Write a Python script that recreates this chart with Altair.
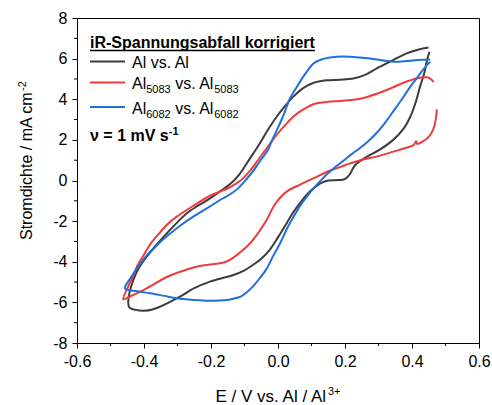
import altair as alt
import pandas as pd

# ---------------- data ----------------
x_ticks = [-0.6, -0.4, -0.2, 0.0, 0.2, 0.4, 0.6]
x_minor = [-0.5, -0.3, -0.1, 0.1, 0.3, 0.5]
y_ticks = [-8, -6, -4, -2, 0, 2, 4, 6, 8]
y_minor = [-7, -5, -3, -1, 1, 3, 5, 7]

series_names = ["Al vs. Al", "Al5083 vs. Al5083", "Al6082 vs. Al6082"]
series_colors = ["#3c3c3c", "#ef3b3b", "#1f6fdc"]

# Al vs. Al (upper branch right->left, then lower branch left->right)
al_E = [0.449, 0.42, 0.384, 0.344, 0.295, 0.26, 0.225, 0.185, 0.145, 0.105, 0.075, 0.046, 0.02, -0.004,
        -0.03, -0.054, -0.085, -0.113, -0.135, -0.17, -0.203, -0.24, -0.273, -0.30, -0.332, -0.362,
        -0.392, -0.415, -0.432, -0.443, -0.447, -0.444, -0.425, -0.40, -0.375, -0.352, -0.325, -0.293,
        -0.25, -0.203, -0.165, -0.133, -0.10, -0.074, -0.05, -0.024, 0.0, 0.026, 0.046, 0.066, 0.086,
        0.105, 0.125, 0.15, 0.18, 0.198, 0.212, 0.23, 0.26, 0.30, 0.344, 0.375, 0.395, 0.41, 0.424,
        0.437, 0.445, 0.452]
al_j = [6.55, 6.45, 6.26, 5.93, 5.52, 5.2, 5.02, 4.96, 4.93, 4.8, 4.55, 4.13, 3.65, 3.14,
        2.5, 1.83, 1.05, 0.35, -0.06, -0.5, -0.88, -1.25, -1.62, -2.05, -2.6, -3.15,
        -3.75, -4.3, -4.9, -5.5, -6.0, -6.25, -6.37, -6.41, -6.35, -6.21, -6.0, -5.72,
        -5.3, -4.98, -4.8, -4.65, -4.42, -4.15, -3.85, -3.4, -2.8, -2.1, -1.55, -1.1, -0.7,
        -0.4, -0.15, 0.0, 0.02, 0.06, 0.25, 0.75, 1.12, 1.48, 2.0, 2.55, 3.14, 3.8, 4.62,
        5.3, 5.93, 6.34]

# Al5083 vs. Al5083
a5_E = [0.465, 0.455, 0.444, 0.42, 0.38, 0.344, 0.3, 0.245, 0.195, 0.145, 0.11, 0.076, 0.046, 0.02,
        -0.004, -0.02, -0.04, -0.064, -0.085, -0.11, -0.14, -0.173, -0.203, -0.253, -0.302, -0.33,
        -0.352, -0.38, -0.402, -0.42, -0.432, -0.448, -0.462,
        -0.44, -0.402, -0.37, -0.332, -0.29, -0.253, -0.22, -0.183, -0.155, -0.133, -0.11, -0.084,
        -0.06, -0.034, -0.014, 0.006, 0.03, 0.066, 0.105, 0.145, 0.2, 0.245, 0.3, 0.344, 0.38, 0.405,
        0.412, 0.416, 0.43, 0.45, 0.463, 0.471, 0.474]
a5_j = [4.85, 5.0, 5.08, 5.05, 4.85, 4.59, 4.3, 4.02, 3.93, 3.87, 3.78, 3.5, 3.15, 2.7,
        2.25, 1.9, 1.45, 0.9, 0.45, 0.02, -0.3, -0.55, -0.75, -1.25, -1.78, -2.15,
        -2.55, -3.1, -3.7, -4.2, -4.7, -5.25, -5.85,
        -5.7, -5.4, -5.1, -4.75, -4.48, -4.28, -4.17, -4.1, -4.0, -3.8, -3.5, -3.1,
        -2.6, -1.95, -1.3, -0.85, -0.5, -0.2, 0.1, 0.42, 0.75, 1.0, 1.2, 1.42, 1.6, 1.75,
        1.93, 1.8, 1.9, 2.15, 2.5, 3.0, 3.5]

# Al6082 vs. Al6082
a6_E = [0.454, 0.43, 0.394, 0.37, 0.344, 0.32, 0.295, 0.245, 0.195, 0.155, 0.125, 0.105, 0.09, 0.075,
        0.056, 0.036, 0.016, 0.0, -0.02, -0.03, -0.054, -0.075, -0.095, -0.12, -0.145, -0.173, -0.21,
        -0.253, -0.29, -0.332, -0.362, -0.392, -0.42, -0.44, -0.457,
        -0.42, -0.382, -0.34, -0.302, -0.25, -0.203, -0.16, -0.133, -0.11, -0.093, -0.074, -0.054,
        -0.034, -0.014, 0.006, 0.026, 0.046, 0.066, 0.086, 0.105, 0.125, 0.145, 0.17, 0.195, 0.22,
        0.245, 0.27, 0.295, 0.32, 0.344, 0.37, 0.394, 0.415, 0.435, 0.454]
a6_j = [5.96, 5.94, 5.9, 5.86, 5.85, 5.9, 5.96, 6.05, 6.1, 6.05, 5.93, 5.75, 5.45, 5.1,
        4.6, 4.05, 3.2, 2.6, 1.9, 1.5, 0.95, 0.45, 0.05, -0.4, -0.7, -0.96, -1.35,
        -1.78, -2.2, -2.75, -3.2, -3.7, -4.3, -4.8, -5.31,
        -5.45, -5.55, -5.68, -5.8, -5.88, -5.92, -5.9, -5.82, -5.7, -5.5, -5.2, -4.8,
        -4.35, -3.7, -3.1, -2.4, -1.8, -1.25, -0.8, -0.4, -0.05, 0.3, 0.65, 0.97, 1.3,
        1.6, 1.95, 2.35, 2.85, 3.4, 4.0, 4.6, 5.05, 5.5, 5.85]

# ---------------- layout / style ----------------
W, H = 402, 325
FONT = "Liberation Sans"

REG = {' ': 278, 'A': 667, 'l': 222, 'v': 500, 's': 500, '.': 278, 'E': 667, '/': 278, 'V': 667,
       'S': 667, 't': 278, 'r': 333, 'o': 556, 'm': 833, 'd': 556, 'i': 222, 'c': 500, 'h': 556,
       'e': 556, '-': 333, '+': 584}
BOLD = {'i': 278, 'R': 722, '-': 333, 'S': 667, 'p': 611, 'a': 556, 'n': 611, 'u': 611, 'g': 611,
        's': 556, 'b': 611, 'f': 333, 'l': 278, ' ': 278, 'k': 556, 'o': 611, 'r': 389, 'e': 556,
        't': 333, 'ν': 556, '=': 584, 'm': 889, 'V': 667}


def tw(text, size, bold=False):
    table = BOLD if bold else REG
    return sum(table.get(ch, 556) for ch in text) * size / 1000.0


xs = alt.Scale(domain=[-0.6, 0.6], nice=False, zero=False)
ys = alt.Scale(domain=[-8, 8], nice=False, zero=False)

x_axis = alt.Axis(values=x_ticks, title=None, grid=False, tickSize=5, labelPadding=5, labelFlush=False,
                  labelExpr="datum.value < 0 ? '-' + format(-datum.value, '.1f') : format(datum.value, '.1f')")
y_axis = alt.Axis(values=y_ticks, title=None, grid=False, tickSize=5, labelPadding=5, labelFlush=False,
                  labelExpr="datum.value < 0 ? '-' + format(-datum.value, 'd') : format(datum.value, 'd')")


def curve(E, j, name, color):
    df = pd.DataFrame({"E": E, "j": j, "order": list(range(len(E))), "series": name})
    return alt.Chart(df).mark_line(color=color, strokeWidth=2, interpolate="catmull-rom").encode(
        x=alt.X("E:Q", scale=xs, axis=x_axis),
        y=alt.Y("j:Q", scale=ys, axis=y_axis),
        order="order:Q",
    )


def label(txt, x, y, size, bold=False, angle=0):
    return alt.Chart(pd.DataFrame({"t": [txt]})).mark_text(
        align="left", baseline="alphabetic", font=FONT, fontSize=size,
        fontWeight="bold" if bold else "normal", angle=angle, color="black"
    ).encode(x=alt.value(x), y=alt.value(y), text="t:N")


def hline(x1, x2, y, color, width):
    return alt.Chart(pd.DataFrame({"k": [0]})).mark_rule(color=color, strokeWidth=width).encode(
        x=alt.value(x1), x2=alt.value(x2), y=alt.value(y))


layers = []

# minor ticks
layers.append(alt.Chart(pd.DataFrame({"E": x_minor})).mark_rule(color="black", strokeWidth=1).encode(
    x=alt.X("E:Q", scale=xs, axis=x_axis), y=alt.value(H), y2=alt.value(H + 3)))
layers.append(alt.Chart(pd.DataFrame({"j": y_minor})).mark_rule(color="black", strokeWidth=1).encode(
    y=alt.Y("j:Q", scale=ys, axis=y_axis), x=alt.value(-3), x2=alt.value(0)))

# curves
layers.append(curve(al_E, al_j, series_names[0], series_colors[0]))
layers.append(curve(a5_E, a5_j, series_names[1], series_colors[1]))
layers.append(curve(a6_E, a6_j, series_names[2], series_colors[2]))

# legend block
LX = 13
FS = 16
title_txt = "iR-Spannungsabfall korrigiert"
layers.append(label(title_txt, LX, 30, FS, bold=True))
layers.append(hline(LX, LX + tw(title_txt, FS, True), 32.5, "black", 1.3))

TX = 55
SUB = 11
SP = tw(" ", FS)
entries = [("Al", "", "vs. Al", "", 43.5, 49.5),
           ("Al", "5083", "vs. Al", "5083", 64.5, 71),
           ("Al", "6082", "vs. Al", "6082", 89, 96)]
for (a, s1, b, s2, ly, by), col in zip(entries, series_colors):
    layers.append(hline(LX, LX + 35, ly, col, 2))
    if not s1:
        layers.append(label(a + " " + b, TX, by, FS))
        continue
    x = TX
    layers.append(label(a, x, by, FS)); x += tw(a, FS)
    layers.append(label(s1, x, by + 4, SUB)); x += tw(s1, SUB) + SP
    layers.append(label(b, x, by, FS)); x += tw(b, FS)
    layers.append(label(s2, x, by + 4, SUB))

nu_txt = "ν = 1 mV s"
layers.append(label(nu_txt, LX, 123, FS, bold=True))
layers.append(label("-1", LX + tw(nu_txt, FS, True), 116.5, SUB, bold=True))

# x axis title
xt_main = "E / V vs. Al / Al"
xt_sup = "3+"
XT = 17
x_total = tw(xt_main, XT) + tw(xt_sup, SUB)
x0 = W / 2 - x_total / 2
layers.append(label(xt_main, x0, 383.5, XT))
layers.append(label(xt_sup, x0 + tw(xt_main, XT), 376.5, SUB))

# y axis title (rotated)
yt_main = "Stromdichte / mA cm"
YT = 16
layers.append(label(yt_main, -45, 222, YT, angle=270))
layers.append(label("-2", -51, 222 - tw(yt_main, YT) - 0.5, SUB, angle=270))

chart = alt.layer(*layers).properties(
    width=W, height=H,
    autosize=alt.AutoSizeParams(type="none"),
    padding={"left": 77, "top": 18, "right": 13, "bottom": 62},
    background="white",
).configure_view(stroke="black", strokeWidth=1).configure_axis(
    domainColor="black", tickColor="black", labelColor="black", labelFont=FONT,
    labelFontSize=16, tickWidth=1, domainWidth=1,
)

chart.save("out.html", embed_options={"renderer": "svg", "actions": False})
